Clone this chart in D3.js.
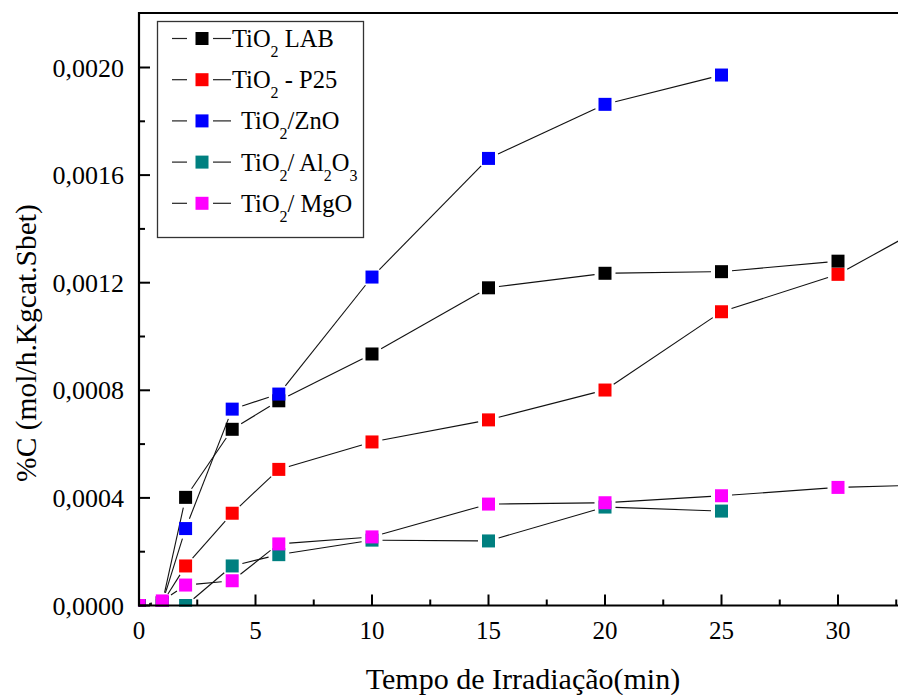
<!DOCTYPE html>
<html>
<head>
<meta charset="utf-8">
<script src="https://cdn.jsdelivr.net/npm/d3@7"></script>
<style>
  html, body { margin: 0; padding: 0; background: #fff; }
  svg { display: block; }
  text { font-family: "Liberation Serif", "Times New Roman", serif; fill: #000; }
</style>
</head>
<body>
<svg id="chart" width="898" height="695"></svg>
<script>
// ---- data ----
const timeLab   = [0, 1, 2, 4, 6, 10, 15, 20, 25, 30];
const valLab    = [0, 0.00001, 0.000402, 0.000655, 0.000761, 0.000935, 0.001181, 0.001235, 0.001241, 0.00128];

const timeP25   = [0, 1, 2, 4, 6, 10, 15, 20, 25, 30, 35];
const valP25    = [0, 0.00001, 0.000147, 0.000343, 0.000506, 0.000608, 0.00069, 0.000801, 0.001092, 0.001231, 0.00147];

const timeZnO   = [0, 1, 2, 4, 6, 10, 15, 20, 25];
const valZnO    = [0, 0.00001, 0.000286, 0.00073, 0.000786, 0.001221, 0.001662, 0.001863, 0.001972];

const timeAl    = [0, 1, 2, 4, 6, 10, 15, 20, 25];
const valAl     = [0, 0, 0, 0.000147, 0.000189, 0.000243, 0.00024, 0.000366, 0.000351];

const timeMgO   = [0, 1, 2, 4, 6, 10, 15, 20, 25, 30, 35];
const valMgO    = [0, 0.000017, 0.000076, 0.000092, 0.000229, 0.000255, 0.000377, 0.000382, 0.000408, 0.000439, 0.000451];

const seriesNames  = ["LAB", "P25", "ZnO", "Al2O3", "MgO"];
const seriesColors = ["#000000", "#ff0000", "#0000ff", "#008080", "#ff00ff"];

const xTicks = [0, 5, 10, 15, 20, 25, 30, 35];
const xMinorTicks = [2.5, 7.5, 12.5, 17.5, 22.5, 27.5, 32.5];
const yTicks = [0, 0.0004, 0.0008, 0.0012, 0.0016, 0.0020];
const yMinorTicks = [0.0002, 0.0006, 0.0010, 0.0014, 0.0018];
const yTickLabels = ["0,0000", "0,0004", "0,0008", "0,0012", "0,0016", "0,0020"];

const series = [
  { t: timeLab, v: valLab },
  { t: timeP25, v: valP25 },
  { t: timeZnO, v: valZnO },
  { t: timeAl,  v: valAl },
  { t: timeMgO, v: valMgO }
].map((s, i) => ({ name: seriesNames[i], color: seriesColors[i],
  pts: s.t.map((t, j) => ({ x: t, y: s.v[j] })) }));

// ---- layout ----
const svg = d3.select("#chart");
const X0 = 139, Y0 = 605.5, YTOP = 13;
const x = d3.scaleLinear().domain([0, 40]).range([X0, X0 + 40 * 23.3]);
const y = d3.scaleLinear().domain([0, 0.0022]).range([Y0, Y0 - 5.5 * 107.6]);

svg.append("defs").append("clipPath").attr("id", "plotclip")
  .append("rect").attr("x", X0 - 0.5).attr("y", YTOP).attr("width", 898).attr("height", Y0 + 1.2 - YTOP);

const plot = svg.append("g").attr("clip-path", "url(#plotclip)");

// line segments with gaps near markers
const GAP = 10.5;
series.forEach(s => {
  const segs = [];
  for (let i = 0; i < s.pts.length - 1; i++) {
    const ax = x(s.pts[i].x), ay = y(s.pts[i].y);
    const bx = x(s.pts[i + 1].x), by = y(s.pts[i + 1].y);
    const dx = bx - ax, dy = by - ay, L = Math.hypot(dx, dy);
    if (L <= 2 * GAP) continue;
    const ux = dx / L, uy = dy / L;
    segs.push([ax + ux * GAP, ay + uy * GAP, bx - ux * GAP, by - uy * GAP]);
  }
  plot.append("g").selectAll("line").data(segs).join("line")
    .attr("x1", d => d[0]).attr("y1", d => d[1])
    .attr("x2", d => d[2]).attr("y2", d => d[3])
    .attr("stroke", "#111").attr("stroke-width", 1.1);
});

// markers
const MS = 13;
series.forEach(s => {
  plot.append("g").selectAll("rect").data(s.pts).join("rect")
    .attr("x", d => x(d.x) - MS / 2).attr("y", d => y(d.y) - MS / 2)
    .attr("width", MS).attr("height", MS)
    .attr("fill", s.color);
});

// axes
const axG = svg.append("g");
axG.append("line").attr("x1", X0).attr("x2", 898).attr("y1", Y0).attr("y2", Y0)
  .attr("stroke", "#000").attr("stroke-width", 2.2);
axG.append("line").attr("x1", X0).attr("x2", X0).attr("y1", YTOP - 1).attr("y2", Y0 + 1)
  .attr("stroke", "#000").attr("stroke-width", 2.2);
axG.append("line").attr("x1", X0).attr("x2", 898).attr("y1", YTOP).attr("y2", YTOP)
  .attr("stroke", "#000").attr("stroke-width", 1.8);

// x ticks
axG.selectAll(".xt").data(xTicks.filter(t => x(t) < 898)).join("line")
  .attr("x1", d => x(d)).attr("x2", d => x(d)).attr("y1", Y0).attr("y2", Y0 - 11)
  .attr("stroke", "#000").attr("stroke-width", 2);
axG.selectAll(".xm").data(xMinorTicks.filter(t => x(t) < 898)).join("line")
  .attr("x1", d => x(d)).attr("x2", d => x(d)).attr("y1", Y0).attr("y2", Y0 - 6)
  .attr("stroke", "#000").attr("stroke-width", 2);
axG.selectAll(".xl").data(xTicks.filter(t => x(t) < 880)).join("text")
  .attr("x", d => x(d)).attr("y", Y0 + 33)
  .attr("text-anchor", "middle").attr("font-size", 25)
  .text(d => d);

// y ticks
axG.selectAll(".yt").data(yTicks).join("line")
  .attr("x1", X0).attr("x2", X0 + 11).attr("y1", d => y(d)).attr("y2", d => y(d))
  .attr("stroke", "#000").attr("stroke-width", 2);
axG.selectAll(".ym").data(yMinorTicks).join("line")
  .attr("x1", X0).attr("x2", X0 + 6).attr("y1", d => y(d)).attr("y2", d => y(d))
  .attr("stroke", "#000").attr("stroke-width", 2);
axG.selectAll(".yl").data(yTicks).join("text")
  .attr("x", 124).attr("y", d => y(d) + 9)
  .attr("text-anchor", "end").attr("font-size", 26)
  .text((d, i) => yTickLabels[i]);

// axis titles
svg.append("text").attr("x", 523).attr("y", 689)
  .attr("text-anchor", "middle").attr("font-size", 30)
  .text("Tempo de Irradiação(min)");
svg.append("text").attr("transform", "translate(36,343) rotate(-90)")
  .attr("text-anchor", "middle").attr("font-size", 29.5)
  .text("%C (mol/h.Kgcat.Sbet)");

// legend
const lg = svg.append("g");
lg.append("rect").attr("x", 157.5).attr("y", 21.5).attr("width", 206).attr("height", 216)
  .attr("fill", "#fff").attr("stroke", "#333").attr("stroke-width", 1.3);

const legendParts = [
  [["TiO", 0], ["2", 1], [" LAB", 0]],
  [["TiO", 0], ["2", 1], [" - P25", 0]],
  [["TiO", 0], ["2", 1], ["/ZnO", 0]],
  [["TiO", 0], ["2", 1], ["/ Al", 0], ["2", 1], ["O", 0], ["3", 1]],
  [["TiO", 0], ["2", 1], ["/ MgO", 0]]
];
const legendTextX = [232, 232, 241, 241, 241];

series.forEach((s, i) => {
  const cy = 38.5 + i * 41.2;
  const g = lg.append("g");
  g.append("line").attr("x1", 172).attr("x2", 187).attr("y1", cy).attr("y2", cy)
    .attr("stroke", "#222").attr("stroke-width", 1.2);
  g.append("line").attr("x1", 213).attr("x2", 231).attr("y1", cy).attr("y2", cy)
    .attr("stroke", "#222").attr("stroke-width", 1.2);
  g.append("rect").attr("x", 202 - MS / 2).attr("y", cy - MS / 2)
    .attr("width", MS).attr("height", MS).attr("fill", s.color);
  const t = g.append("text").attr("x", legendTextX[i]).attr("y", cy + 8.5).attr("font-size", 24.5);
  let shifted = false;
  legendParts[i].forEach(p => {
    const ts = t.append("tspan").text(p[0]);
    if (p[1]) {
      ts.attr("font-size", 16);
      ts.attr("dy", shifted ? 0 : 10);
      shifted = true;
    } else {
      ts.attr("dy", shifted ? -10 : 0);
      shifted = false;
    }
  });
});
</script>
</body>
</html>
